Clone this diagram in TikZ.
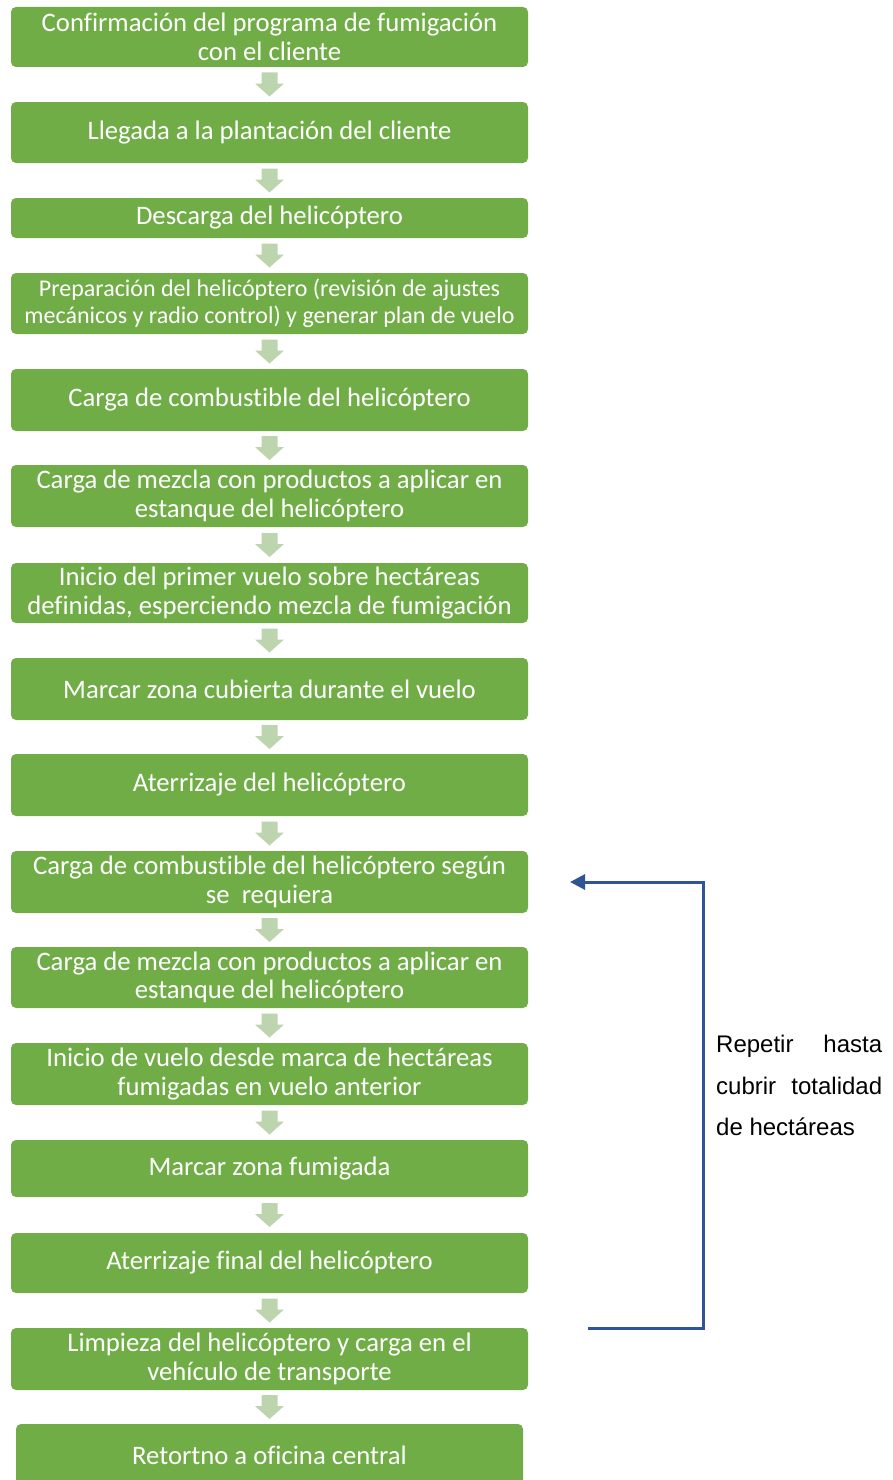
\documentclass[tikz,border=0pt]{standalone}
\usepackage{fontspec}
\setmainfont{Carlito}[Ligatures=NoCommon]
\newfontfamily\notefont{Liberation Sans}
\usetikzlibrary{positioning,arrows.meta,calc}
\definecolor{leafgreen}{HTML}{70AD47}
\definecolor{palegreen}{HTML}{BCD5AE}
\definecolor{loopblue}{HTML}{2F5597}

\tikzset{
    stepbox/.style={fill=leafgreen, rounded corners=5pt, minimum width=517pt,
        minimum height=61pt, text=white, align=center, inner sep=2pt,
        font=\fontsize{26.7}{28.5}\selectfont},
    flowfill/.style={fill=palegreen},
    loopline/.style={loopblue, line width=3pt, -{Triangle[width=15pt,length=15pt]}},
    notetext/.style={text width=166pt, align=justify, inner sep=0pt,
        font=\notefont\fontsize{24}{41.5}\selectfont}
}

\begin{document}
\begin{tikzpicture}[x=1pt, y=-1pt]
    \useasboundingbox (0,0) rectangle (893,1480);

    % Steps
    \node[stepbox, minimum height=60pt] (b1) at (269.5,37) {Confirmación del programa de fumigación\\con el cliente};
    \node[stepbox] (b2) at (269.5,132.5) {Llegada a la plantación del cliente};
    \node[stepbox, minimum height=40pt] (b3) at (269.5,218) {Descarga del helicóptero};
    \node[stepbox, font=\fontsize{24}{27}\selectfont] (b4) at (269.5,303.5) {Preparación del helicóptero (revisión de ajustes\\mecánicos y radio control) y generar plan de vuelo};
    \node[stepbox, minimum height=62pt] (b5) at (269.5,400) {Carga de combustible del helicóptero};
    \node[stepbox, minimum height=62pt] (b6) at (269.5,496) {Carga de mezcla con productos a aplicar en\\estanque del helicóptero};
    \node[stepbox, minimum height=60pt] (b7) at (269.5,593) {Inicio del primer vuelo sobre hectáreas\\definidas, esperciendo mezcla de fumigación};
    \node[stepbox, minimum height=62pt] (b8) at (269.5,689) {Marcar zona cubierta durante el vuelo};
    \node[stepbox, minimum height=62pt] (b9) at (269.5,785) {Aterrizaje del helicóptero};
    \node[stepbox, minimum height=62pt] (b10) at (269.5,882) {Carga de combustible del helicóptero según\\se\ \ requiera};
    \node[stepbox] (b11) at (269.5,977.5) {Carga de mezcla con productos a aplicar en\\estanque del helicóptero};
    \node[stepbox, minimum height=62pt] (b12) at (269.5,1074) {Inicio de vuelo desde marca de hectáreas\\fumigadas en vuelo anterior};
    \node[stepbox, minimum height=57pt] (b13) at (269.5,1168.5) {Marcar zona fumigada};
    \node[stepbox, minimum height=60pt] (b14) at (269.5,1263) {Aterrizaje final del helicóptero};
    \node[stepbox, minimum height=62pt] (b15) at (269.5,1359) {Limpieza del helicóptero y carga en el\\vehículo de transporte};
    \node[stepbox, minimum height=62pt, minimum width=507pt] (b16) at (269.5,1455) {Retortno a oficina central};

    % Block arrows between steps
    \foreach \a/\b in {b1/b2, b2/b3, b3/b4, b4/b5, b5/b6, b6/b7, b7/b8, b8/b9,
                       b9/b10, b10/b11, b11/b12, b12/b13, b13/b14, b14/b15, b15/b16} {
        \coordinate (gap) at ($(\a.south)!0.5!(\b.north)$);
        \fill[flowfill] ($(gap)+(-8,-12)$) -- ++(16,0) -- ++(0,11) -- ++(6.5,0)
            -- ($(gap)+(0,12)$) -- ++(-14.5,-13) -- ++(6.5,0) -- cycle;
    }

    % Repeat loop
    \coordinate (loopS) at (588,1328);
    \coordinate (loopR) at (703,1100);
    \coordinate (loopN) at (570,882);
    \draw[loopline] (loopS) -| (loopR) |- (loopN);

    \node[notetext, anchor=north west] (note) at (716,1035) {Repetir hasta cubrir totalidad de hectáreas};
\end{tikzpicture}
\end{document}
